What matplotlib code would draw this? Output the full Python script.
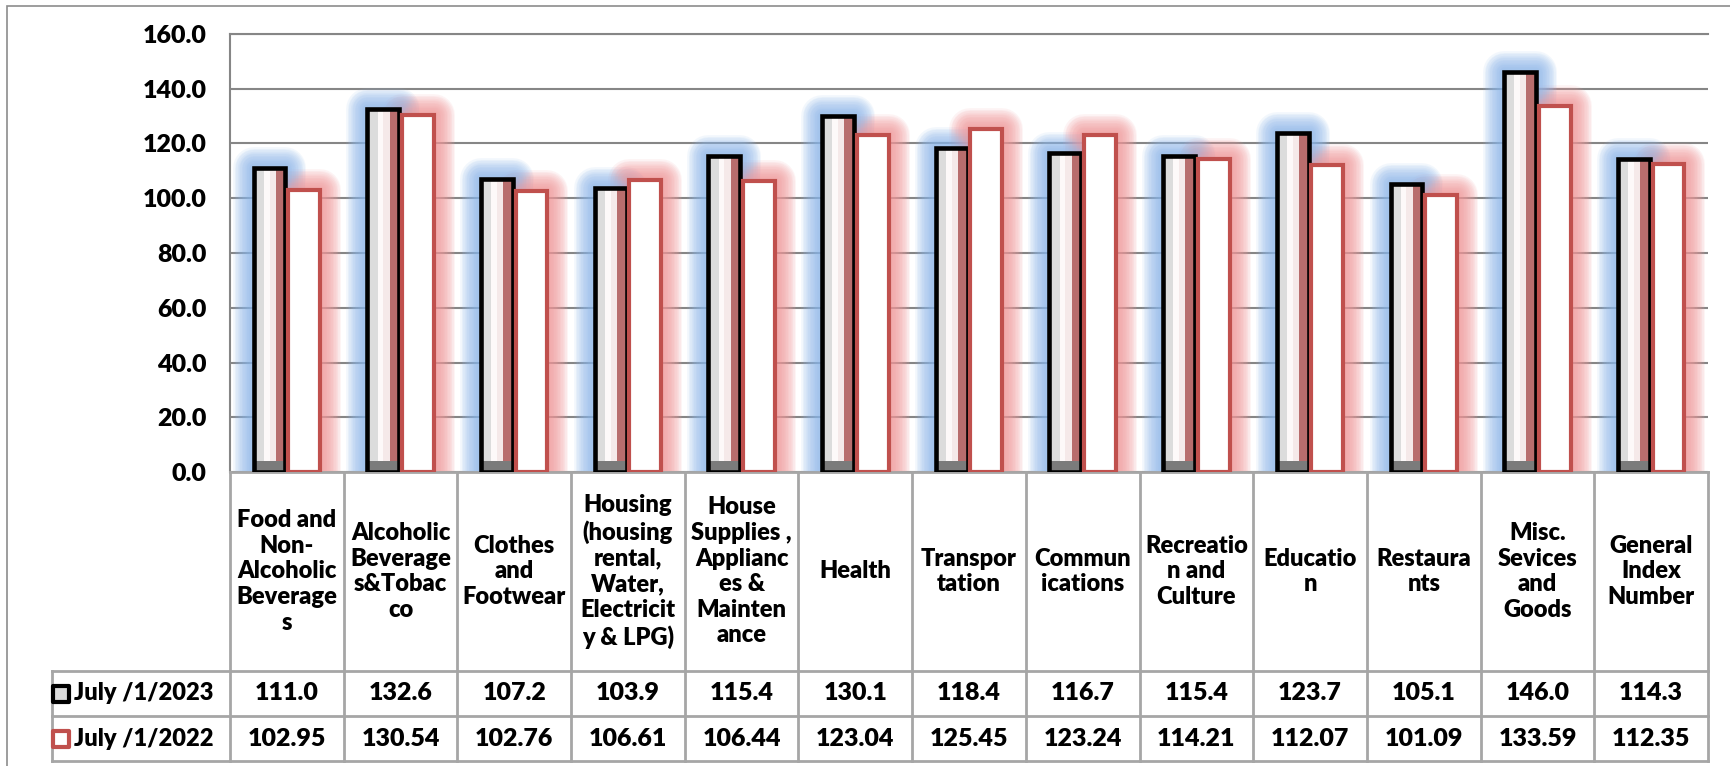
import numpy as np
import matplotlib.pyplot as plt
from matplotlib.patches import Rectangle

categories = ["Food and\nNon-\nAlcoholic\nBeverage\ns", "Alcoholic\nBeverage\ns&Tobac\nco",
              "Clothes\nand\nFootwear", "Housing\n(housing\nrental,\nWater,\nElectricit\ny & LPG)",
              "House\nSupplies ,\nApplianc\nes &\nMainten\nance", "Health", "Transpor\ntation",
              "Commun\nications", "Recreatio\nn and\nCulture", "Educatio\nn", "Restaura\nnts",
              "Misc.\nSevices\nand\nGoods", "General\nIndex\nNumber"]
series_names = ["July /1/2023", "July /1/2022"]
v2023 = [111.0, 132.6, 107.2, 103.9, 115.4, 130.1, 118.4, 116.7, 115.4, 123.7, 105.1, 146.0, 114.3]
v2022 = [102.95, 130.54, 102.76, 106.61, 106.44, 123.04, 125.45, 123.24, 114.21, 112.07, 101.09, 133.59, 112.35]
lab2023 = ["111.0", "132.6", "107.2", "103.9", "115.4", "130.1", "118.4", "116.7", "115.4", "123.7", "105.1", "146.0", "114.3"]
lab2022 = ["102.95", "130.54", "102.76", "106.61", "106.44", "123.04", "125.45", "123.24", "114.21", "112.07", "101.09", "133.59", "112.35"]
yticks = np.arange(0, 161, 20)

plt.rcParams['font.family'] = ['Lato', 'DejaVu Sans']
fw = 'heavy'

W, H = 1730, 766
fig = plt.figure(figsize=(W / 100, H / 100), dpi=100)

# outer chart border
fig.patches.append(Rectangle((7 / W, -0.01), 1.1, 1 - 6 / H + 0.01, transform=fig.transFigure,
                             fill=False, edgecolor='#8c8c8c', lw=1.2, clip_on=False))

x0, x1, y_zero, y_top = 230, 1708, 472, 34
ax = fig.add_axes([x0 / W, 1 - y_zero / H, (x1 - x0) / W, (y_zero - y_top) / H])
x = np.arange(len(categories))
bw, off = 0.28, 0.152

# soft glow behind the bars
for lw in np.linspace(30, 6, 13):
    for vals, c, dx in [(v2023, '#8fb8ec', -off), (v2022, '#f2999b', off)]:
        bars = ax.bar(x + dx, vals, bw, color=c, edgecolor=c, lw=lw, alpha=0.11, zorder=1)
        for b in bars:
            b.set_joinstyle('round')

# series 1: bevelled bars
ax.bar(x - off, v2023, bw, color='#f5e9e9', lw=0, zorder=3)
ax.bar(x - off - bw / 2, v2023, 0.09, align='edge', color='#dcdcdc', lw=0, zorder=4)
ax.bar(x - off - bw / 2 + 0.09, v2023, 0.05, align='edge', color='#fdf9f9', lw=0, zorder=4)
ax.bar(x - off + bw / 2 - 0.085, v2023, 0.085, align='edge', color='#b86d6d', lw=0, zorder=4)
ax.bar(x - off, 4, bw, color='#7b7b7b', lw=0, zorder=4)
ax.bar(x - off, v2023, bw, fill=False, edgecolor='black', lw=3.3, zorder=5)

# series 2
ax.bar(x + off, v2022, bw, color='white', edgecolor='#c0504d', lw=3.0, zorder=6)

ax.set_xlim(-0.5, len(categories) - 0.5)
ax.set_ylim(0, 160)
ax.set_yticks(yticks)
ax.set_yticklabels([f"{t:.1f}" for t in yticks], fontsize=18, fontweight=fw)
ax.tick_params(axis='y', length=0, pad=17)
ax.set_xticks([])
ax.grid(axis='y', color='#868686', lw=1.5, zorder=0)
ax.set_axisbelow(True)
ax.spines['right'].set_visible(False)
ax.spines['top'].set_color('#868686')
ax.spines['top'].set_linewidth(1.5)
ax.spines['left'].set_color('#868686')
ax.spines['left'].set_linewidth(1.5)
ax.spines['bottom'].set_color('#a6a6a6')
ax.spines['bottom'].set_linewidth(2)

# data table
y_bot = 761
axt = fig.add_axes([x0 / W, 1 - y_bot / H, (x1 - x0) / W, (y_bot - y_zero) / H])
axt.set_xlim(-0.5, len(categories) - 0.5)
axt.set_ylim(y_bot - y_zero, 0)
axt.axis('off')
cw = (x1 - x0) / len(categories)
xl = -0.5 - (x0 - 52) / cw
r1, r2, r3 = 199, 244, 289
lc = '#a6a6a6'
for k in range(len(categories) + 1):
    axt.plot([k - 0.5, k - 0.5], [0, r3], color=lc, lw=2, clip_on=False)
axt.plot([xl, xl], [r1, r3], color=lc, lw=2, clip_on=False)
for yy in [r1, r2, r3]:
    axt.plot([xl, len(categories) - 0.5], [yy, yy], color=lc, lw=2, clip_on=False)

for i, c in enumerate(categories):
    axt.text(i, r1 / 2, c, ha='center', va='center', fontsize=17, fontweight=fw,
             linespacing=1.2)
    axt.text(i, (r1 + r2) / 2, lab2023[i], ha='center', va='center', fontsize=18, fontweight=fw)
    axt.text(i, (r2 + r3) / 2, lab2022[i], ha='center', va='center', fontsize=18, fontweight=fw)

kx = xl + 0.08
axt.scatter([kx], [(r1 + r2) / 2], marker='s', s=140, color='#dcdcdc', edgecolor='black',
            lw=3, clip_on=False, zorder=5)
axt.scatter([kx], [(r2 + r3) / 2], marker='s', s=140, color='white', edgecolor='#c0504d',
            lw=3, clip_on=False, zorder=5)
for yy, name in [((r1 + r2) / 2, series_names[0]), ((r2 + r3) / 2, series_names[1])]:
    axt.text(kx + 0.11, yy, name, ha='left', va='center', fontsize=17, fontweight=fw,
             clip_on=False)

fig.savefig('out.png', dpi=100)
